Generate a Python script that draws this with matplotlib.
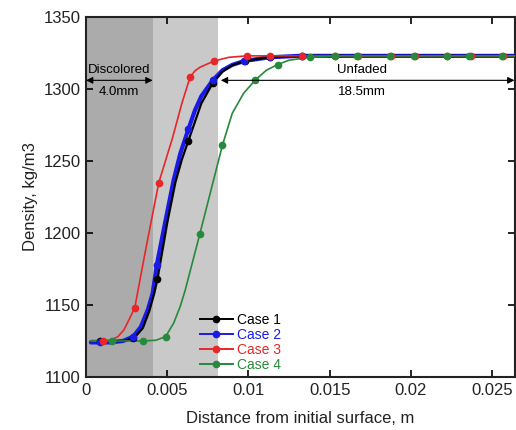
import matplotlib
matplotlib.use('Agg')
import matplotlib.pyplot as plt

plt.rcParams['font.family'] = ['Liberation Sans', 'DejaVu Sans']

# density profiles (line paths)
x1 = [0.0003, 0.0015, 0.0024, 0.0030, 0.0035, 0.0039, 0.0042, 0.0044, 0.0050,
      0.0055, 0.0059, 0.0063, 0.0071, 0.0078, 0.0084, 0.0090, 0.0098, 0.0113,
      0.0133, 0.0265]
y1 = [1125, 1125, 1125, 1127.5, 1134, 1146, 1158, 1168, 1207,
      1235, 1251, 1264, 1290, 1304, 1312, 1316.5, 1319.5, 1322,
      1323, 1323]

x2 = [0.0003, 0.0015, 0.00227, 0.0029, 0.00337, 0.0038, 0.0041, 0.00436, 0.0049,
      0.0054, 0.0058, 0.0063, 0.0067, 0.0071, 0.0078, 0.0084, 0.0090, 0.00975,
      0.0113, 0.0131, 0.0265]
y2 = [1124, 1124, 1125, 1128, 1134.7, 1146.5, 1158, 1178, 1209,
      1237, 1255, 1272, 1285, 1295, 1306, 1313, 1316.7, 1319.5,
      1322, 1323, 1323]

x3 = [0.0003, 0.0012, 0.0016, 0.00196, 0.00233, 0.00264, 0.0030, 0.0032, 0.0037,
      0.00448, 0.0053, 0.0059, 0.00640, 0.0067, 0.0070, 0.0079, 0.0088, 0.0099,
      0.0113, 0.0265]
y3 = [1125, 1125, 1126, 1128, 1132.6, 1139.6, 1148, 1160, 1190,
      1235, 1265, 1290, 1308, 1312.5, 1315, 1319.5, 1322, 1323,
      1323, 1323]

x4 = [0.0003, 0.0016, 0.0035, 0.0043, 0.0049, 0.0054, 0.0058, 0.0061, 0.0070,
      0.0077, 0.0084, 0.0090, 0.0097, 0.0104, 0.0111, 0.0118, 0.0125, 0.0138,
      0.0153, 0.0265]
y4 = [1125, 1125, 1125, 1125.5, 1128, 1137.5, 1149, 1160, 1199,
      1230, 1261, 1283, 1297, 1306, 1313, 1317, 1320, 1322,
      1323, 1323]

# marker positions
mx1 = [0.00086, 0.0029, 0.0044, 0.0063, 0.0078, 0.0098, 0.0113, 0.0133]
my1 = [1125, 1127, 1168, 1264, 1304, 1319.5, 1322, 1323]
mx2 = [0.00086, 0.0029, 0.00436, 0.0063, 0.0078, 0.00975, 0.0113, 0.0133]
my2 = [1124, 1128, 1178, 1272, 1306, 1319.5, 1322, 1323]
mx3 = [0.00104, 0.0030, 0.00448, 0.00640, 0.0079, 0.0099, 0.01135, 0.0133,
       0.01535, 0.01675, 0.01875, 0.02025, 0.02225, 0.0237, 0.02565]
my3 = [1125, 1148, 1235, 1308, 1319.5, 1323, 1323, 1323,
       1323, 1323, 1323, 1323, 1323, 1323, 1323]
mx4 = [0.0016, 0.0035, 0.0049, 0.0070, 0.0084, 0.0104, 0.0118, 0.0138,
       0.0153, 0.0167, 0.0187, 0.0202, 0.0222, 0.0236, 0.0256]
my4 = [1125, 1125, 1128, 1199, 1261, 1306, 1317, 1322,
       1323, 1323, 1323, 1323, 1323, 1323, 1323]

discolored_end = 0.0041
unfaded_start = 0.0081
arrow_y = 1306

fig = plt.figure(figsize=(5.16, 4.30), dpi=100)
ax = fig.add_axes([0.1667, 0.1233, 0.831, 0.8372])

ax.axvspan(0, discolored_end, color='#ababab', lw=0, zorder=0)
ax.axvspan(discolored_end, unfaded_start, color='#c9c9c9', lw=0, zorder=0)

c1, c2, c3, c4 = 'black', '#1a1ae6', '#e8262a', '#26893c'

kw = dict(solid_joinstyle='round', solid_capstyle='round', zorder=3)
ax.plot(x2, y2, color=c2, lw=3.0, **kw)
ax.plot(x1, y1, color=c1, lw=1.6, **kw)
ax.plot(x3, y3, color=c3, lw=1.2, **kw)
ax.plot(x4, y4, color=c4, lw=1.2, **kw)
ax.plot(mx1, my1, 'o', color=c1, ms=4.5, zorder=4)
ax.plot(mx2, my2, 'o', color=c2, ms=4.5, zorder=4)
ax.plot(mx3, my3, 'o', color=c3, ms=4.5, zorder=4)
ax.plot(mx4, my4, 'o', color=c4, ms=4.5, zorder=5)

# legend handles
h1, = ax.plot([], [], '-o', color=c1, lw=1.4, ms=4.5)
h2, = ax.plot([], [], '-o', color=c2, lw=1.4, ms=4.5)
h3, = ax.plot([], [], '-o', color=c3, lw=1.4, ms=4.5)
h4, = ax.plot([], [], '-o', color=c4, lw=1.4, ms=4.5)
leg = ax.legend([h1, h2, h3, h4], ['Case 1', 'Case 2', 'Case 3', 'Case 4'],
                loc='lower left', bbox_to_anchor=(0.265, 0.013), frameon=False,
                fontsize=10, handlelength=2.4, handletextpad=0.3,
                labelspacing=0.08, borderpad=0, borderaxespad=0)
for t, c in zip(leg.get_texts(), [c1, c2, c3, c4]):
    t.set_color(c)

# annotations
arr = dict(arrowstyle='<|-|>', color='black', lw=0.8,
           mutation_scale=10, shrinkA=0, shrinkB=0)
ax.annotate('', xy=(0, arrow_y), xytext=(discolored_end, arrow_y),
            arrowprops=arr, zorder=6)
ax.annotate('', xy=(unfaded_start + 0.0002, arrow_y), xytext=(0.02638, arrow_y),
            arrowprops=arr, zorder=6, annotation_clip=False)
ax.text(0.00205, 1309, 'Discolored', ha='center', va='bottom', fontsize=9.5)
ax.text(0.00205, 1302, '4.0mm', ha='center', va='top', fontsize=9.5)
ax.text(0.0170, 1309, 'Unfaded', ha='center', va='bottom', fontsize=9.5)
ax.text(0.0170, 1302, '18.5mm', ha='center', va='top', fontsize=9.5)

ax.set_xlim(0, 0.0264)
ax.set_ylim(1100, 1350)
ax.set_xticks([0, 0.005, 0.01, 0.015, 0.02, 0.025])
ax.set_xticklabels(['0', '0.005', '0.01', '0.015', '0.02', '0.025'])
ax.set_yticks([1100, 1150, 1200, 1250, 1300, 1350])
ax.tick_params(direction='in', top=True, right=True, length=5, width=1.2,
               labelsize=12, pad=4, labelcolor='#222222')
for s in ax.spines.values():
    s.set_linewidth(1.5)
    s.set_color('#222222')
ax.set_xlabel('Distance from initial surface, m', fontsize=12, labelpad=10,
              color='#222222')
ax.set_ylabel('Density, kg/m3', fontsize=12, labelpad=4, color='#222222')

fig.savefig('out.png', dpi=100)
